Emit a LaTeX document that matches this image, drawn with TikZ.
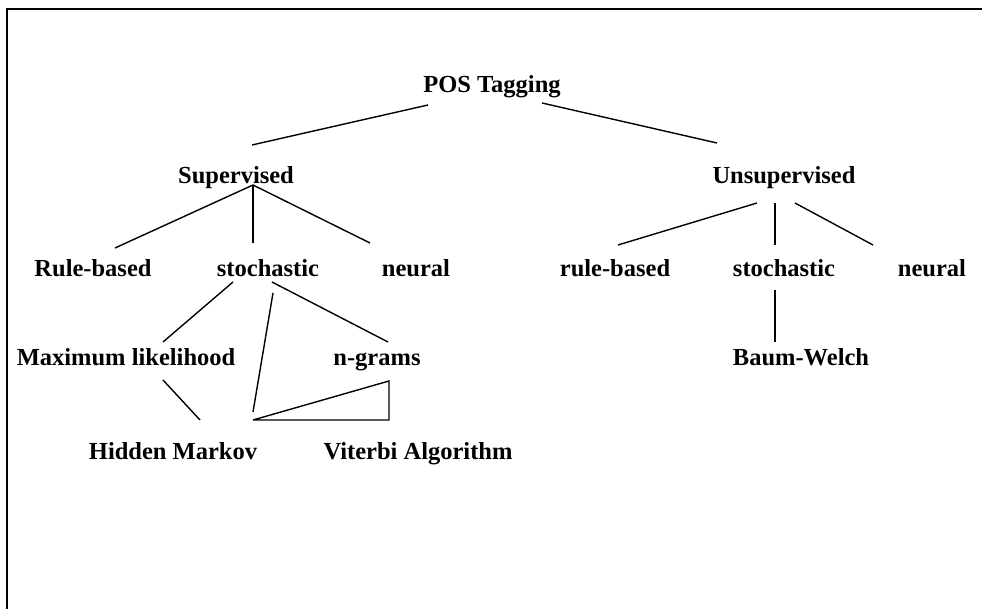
\documentclass[tikz,border=0pt]{standalone}
\usepackage{fontspec}
\setmainfont{Liberation Serif}
\usetikzlibrary{positioning}

\begin{document}
\begin{tikzpicture}[on grid,
    every node/.style={font=\fontsize{12.25}{14}\selectfont\bfseries, text height=8pt, text depth=0pt, inner sep=0pt},
    tree/.style={line width=0.7pt}]
   \useasboundingbox (0,0) rectangle (491pt,-304.5pt);
   \draw[line width=1.1pt] (3.5pt,-304.5pt) -- (3.5pt,-4.5pt) -- (491pt,-4.5pt);

   \node (pos) at (246pt,-42.5pt) {POS Tagging};
   \node (sup)    [below left=45.5pt and 128pt of pos]   {Supervised};
   \node (unsup)  [below right=45.5pt and 146pt of pos]  {Unsupervised};
   \node (sup-rb) [below left=46.5pt and 71.5pt of sup]  {Rule-based};
   \node (sup-st) [below right=46.5pt and 16pt of sup]   {stochastic};
   \node (sup-ne) [below right=46.5pt and 90pt of sup]   {neural};
   \node (uns-rb) [below left=46.5pt and 84.5pt of unsup] {rule-based};
   \node (uns-st) [below=46.5pt of unsup]                {stochastic};
   \node (uns-ne) [below right=46.5pt and 74pt of unsup] {neural};
   \node (ml)     [below left=44.5pt and 71pt of sup-st]   {Maximum likelihood};
   \node (ngr)    [below right=44.5pt and 54.5pt of sup-st] {n-grams};
   \node (bw)     [below right=44.5pt and 8.5pt of uns-st]  {Baum-Welch};
   \node (hmm)    [below right=47pt and 23.5pt of ml]   {Hidden Markov};
   \node (vit)    [below right=47pt and 20.5pt of ngr]  {Viterbi Algorithm};

   \path[tree]
    ([shift={(-32pt,-10pt)}]pos.center) edge ([shift={(8pt,15.5pt)}]sup.center)
    ([shift={(25pt,-9pt)}]pos.center) edge ([shift={(-33.5pt,16.5pt)}]unsup.center)
    ([shift={(8.5pt,-4.5pt)}]sup.center) edge ([shift={(11pt,10.5pt)}]sup-rb.center)
         edge ([shift={(-7.5pt,13pt)}]sup-st.center)
         edge ([shift={(-23pt,13pt)}]sup-ne.center)
    ([shift={(-13.5pt,-13.5pt)}]unsup.center) edge ([shift={(1.5pt,12pt)}]uns-rb.center)
    ([shift={(-4.5pt,-13.5pt)}]unsup.center) edge ([shift={(-4.5pt,12pt)}]uns-st.center)
    ([shift={(5.5pt,-13.5pt)}]unsup.center) edge ([shift={(-29.5pt,12pt)}]uns-ne.center)
    ([shift={(-4.5pt,-10.5pt)}]uns-st.center) edge ([shift={(-13pt,8pt)}]bw.center)
    ([shift={(-17.5pt,-6.5pt)}]sup-st.center) edge ([shift={(18.5pt,8pt)}]ml.center)
    ([shift={(2.5pt,-12pt)}]sup-st.center) edge ([shift={(40pt,20pt)}]hmm.center)
    ([shift={(2pt,-6.5pt)}]sup-st.center) edge ([shift={(5.5pt,8pt)}]ngr.center)
    ([shift={(18.5pt,-11pt)}]ml.center) edge ([shift={(13.5pt,16pt)}]hmm.center);
   \draw[tree] ([shift={(40pt,16pt)}]hmm.center) -- ([shift={(6pt,-11.5pt)}]ngr.center)
       |- ([shift={(40pt,16pt)}]hmm.center);
\end{tikzpicture}
\end{document}
